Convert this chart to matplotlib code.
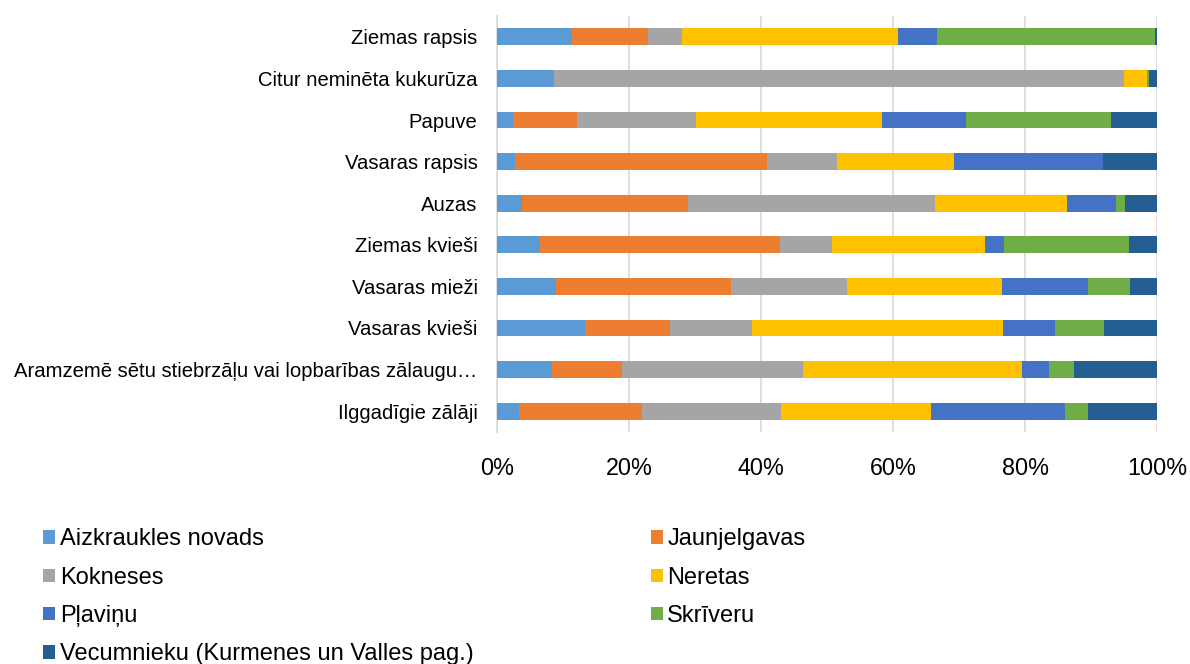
import numpy as np
import matplotlib
matplotlib.use("Agg")
import matplotlib.pyplot as plt

plt.rcParams['font.family'] = ['Liberation Sans', 'DejaVu Sans']

# --- Data (percent shares) ---
crops = [
    "Ziemas rapsis",
    "Citur neminēta kukurūza",
    "Papuve",
    "Vasaras rapsis",
    "Auzas",
    "Ziemas kvieši",
    "Vasaras mieži",
    "Vasaras kvieši",
    "Aramzemē sētu stiebrzāļu vai lopbarības zālaugu…",
    "Ilggadīgie zālāji",
]
regions = [
    "Aizkraukles novads",
    "Jaunjelgavas",
    "Kokneses",
    "Neretas",
    "Pļaviņu",
    "Skrīveru",
    "Vecumnieku (Kurmenes un Valles pag.)",
]
aizkraukles = [11.3, 8.7, 2.4, 2.8, 3.75, 6.45, 9.0, 13.4, 8.4, 3.4]
jaunjelgavas = [11.6, 0.0, 9.7, 38.1, 25.2, 36.4, 26.4, 12.8, 10.5, 18.6]
kokneses = [5.1, 86.3, 18.0, 10.6, 37.5, 8.0, 17.6, 12.4, 27.4, 21.0]
neretas = [32.8, 3.5, 28.3, 17.8, 19.9, 23.1, 23.5, 38.0, 33.2, 22.7]
plavinu = [5.9, 0.0, 12.7, 22.5, 7.5, 2.9, 13.0, 8.0, 4.2, 20.3]
skriveru = [33.0, 0.3, 21.9, 0.0, 1.4, 18.9, 6.4, 7.3, 3.7, 3.5]
vecumnieku = [0.3, 1.2, 7.0, 8.2, 4.8, 4.3, 4.1, 8.1, 12.6, 10.5]

series = [aizkraukles, jaunjelgavas, kokneses, neretas, plavinu, skriveru, vecumnieku]
colors = ["#5B9BD5", "#ED7D31", "#A5A5A5", "#FFC000", "#4472C4", "#70AD47", "#255E91"]

# --- Normalise to 100% ---
vals = np.array(series, dtype=float)
vals = vals / vals.sum(axis=0) * 100

fig = plt.figure(figsize=(11.9, 6.64), dpi=100)
ax = fig.add_axes([497 / 1190, 1 - 432 / 664, 660 / 1190, 416 / 664])

y = np.arange(len(crops))
left = np.zeros(len(crops))
handles = []
for i, name in enumerate(regions):
    h = ax.barh(y, vals[i], left=left, height=0.4, color=colors[i], label=name, zorder=3)
    handles.append(h)
    left += vals[i]

ax.set_ylim(len(crops) - 0.5, -0.5)
ax.set_xlim(0, 100)
ax.set_xticks(np.arange(0, 101, 20))
ax.set_xticklabels([f"{v}%" for v in range(0, 101, 20)], fontsize=16.8)
ax.set_yticks(y)
ax.set_yticklabels(crops, fontsize=14.6)
ax.tick_params(axis='both', length=0)
ax.tick_params(axis='x', pad=18)
ax.tick_params(axis='y', pad=14)
ax.grid(axis='x', color='#D9D9D9', linewidth=1.2, zorder=0)
for s in ['top', 'right', 'bottom']:
    ax.spines[s].set_visible(False)
ax.spines['left'].set_color('#D9D9D9')
ax.spines['left'].set_linewidth(1.2)

# legend: row-major order like the original, matplotlib fills column-major
order = [0, 2, 4, 6, 1, 3, 5]
fig.legend([handles[i] for i in order], [regions[i] for i in order],
           ncol=2, loc='upper left', bbox_to_anchor=(34 / 1190, 1 - 519 / 664),
           frameon=False, fontsize=17, handlelength=0.5, handleheight=0.5,
           handletextpad=0.2, columnspacing=7.5, labelspacing=0.69,
           borderaxespad=0)

fig.savefig("out.png", dpi=100)
